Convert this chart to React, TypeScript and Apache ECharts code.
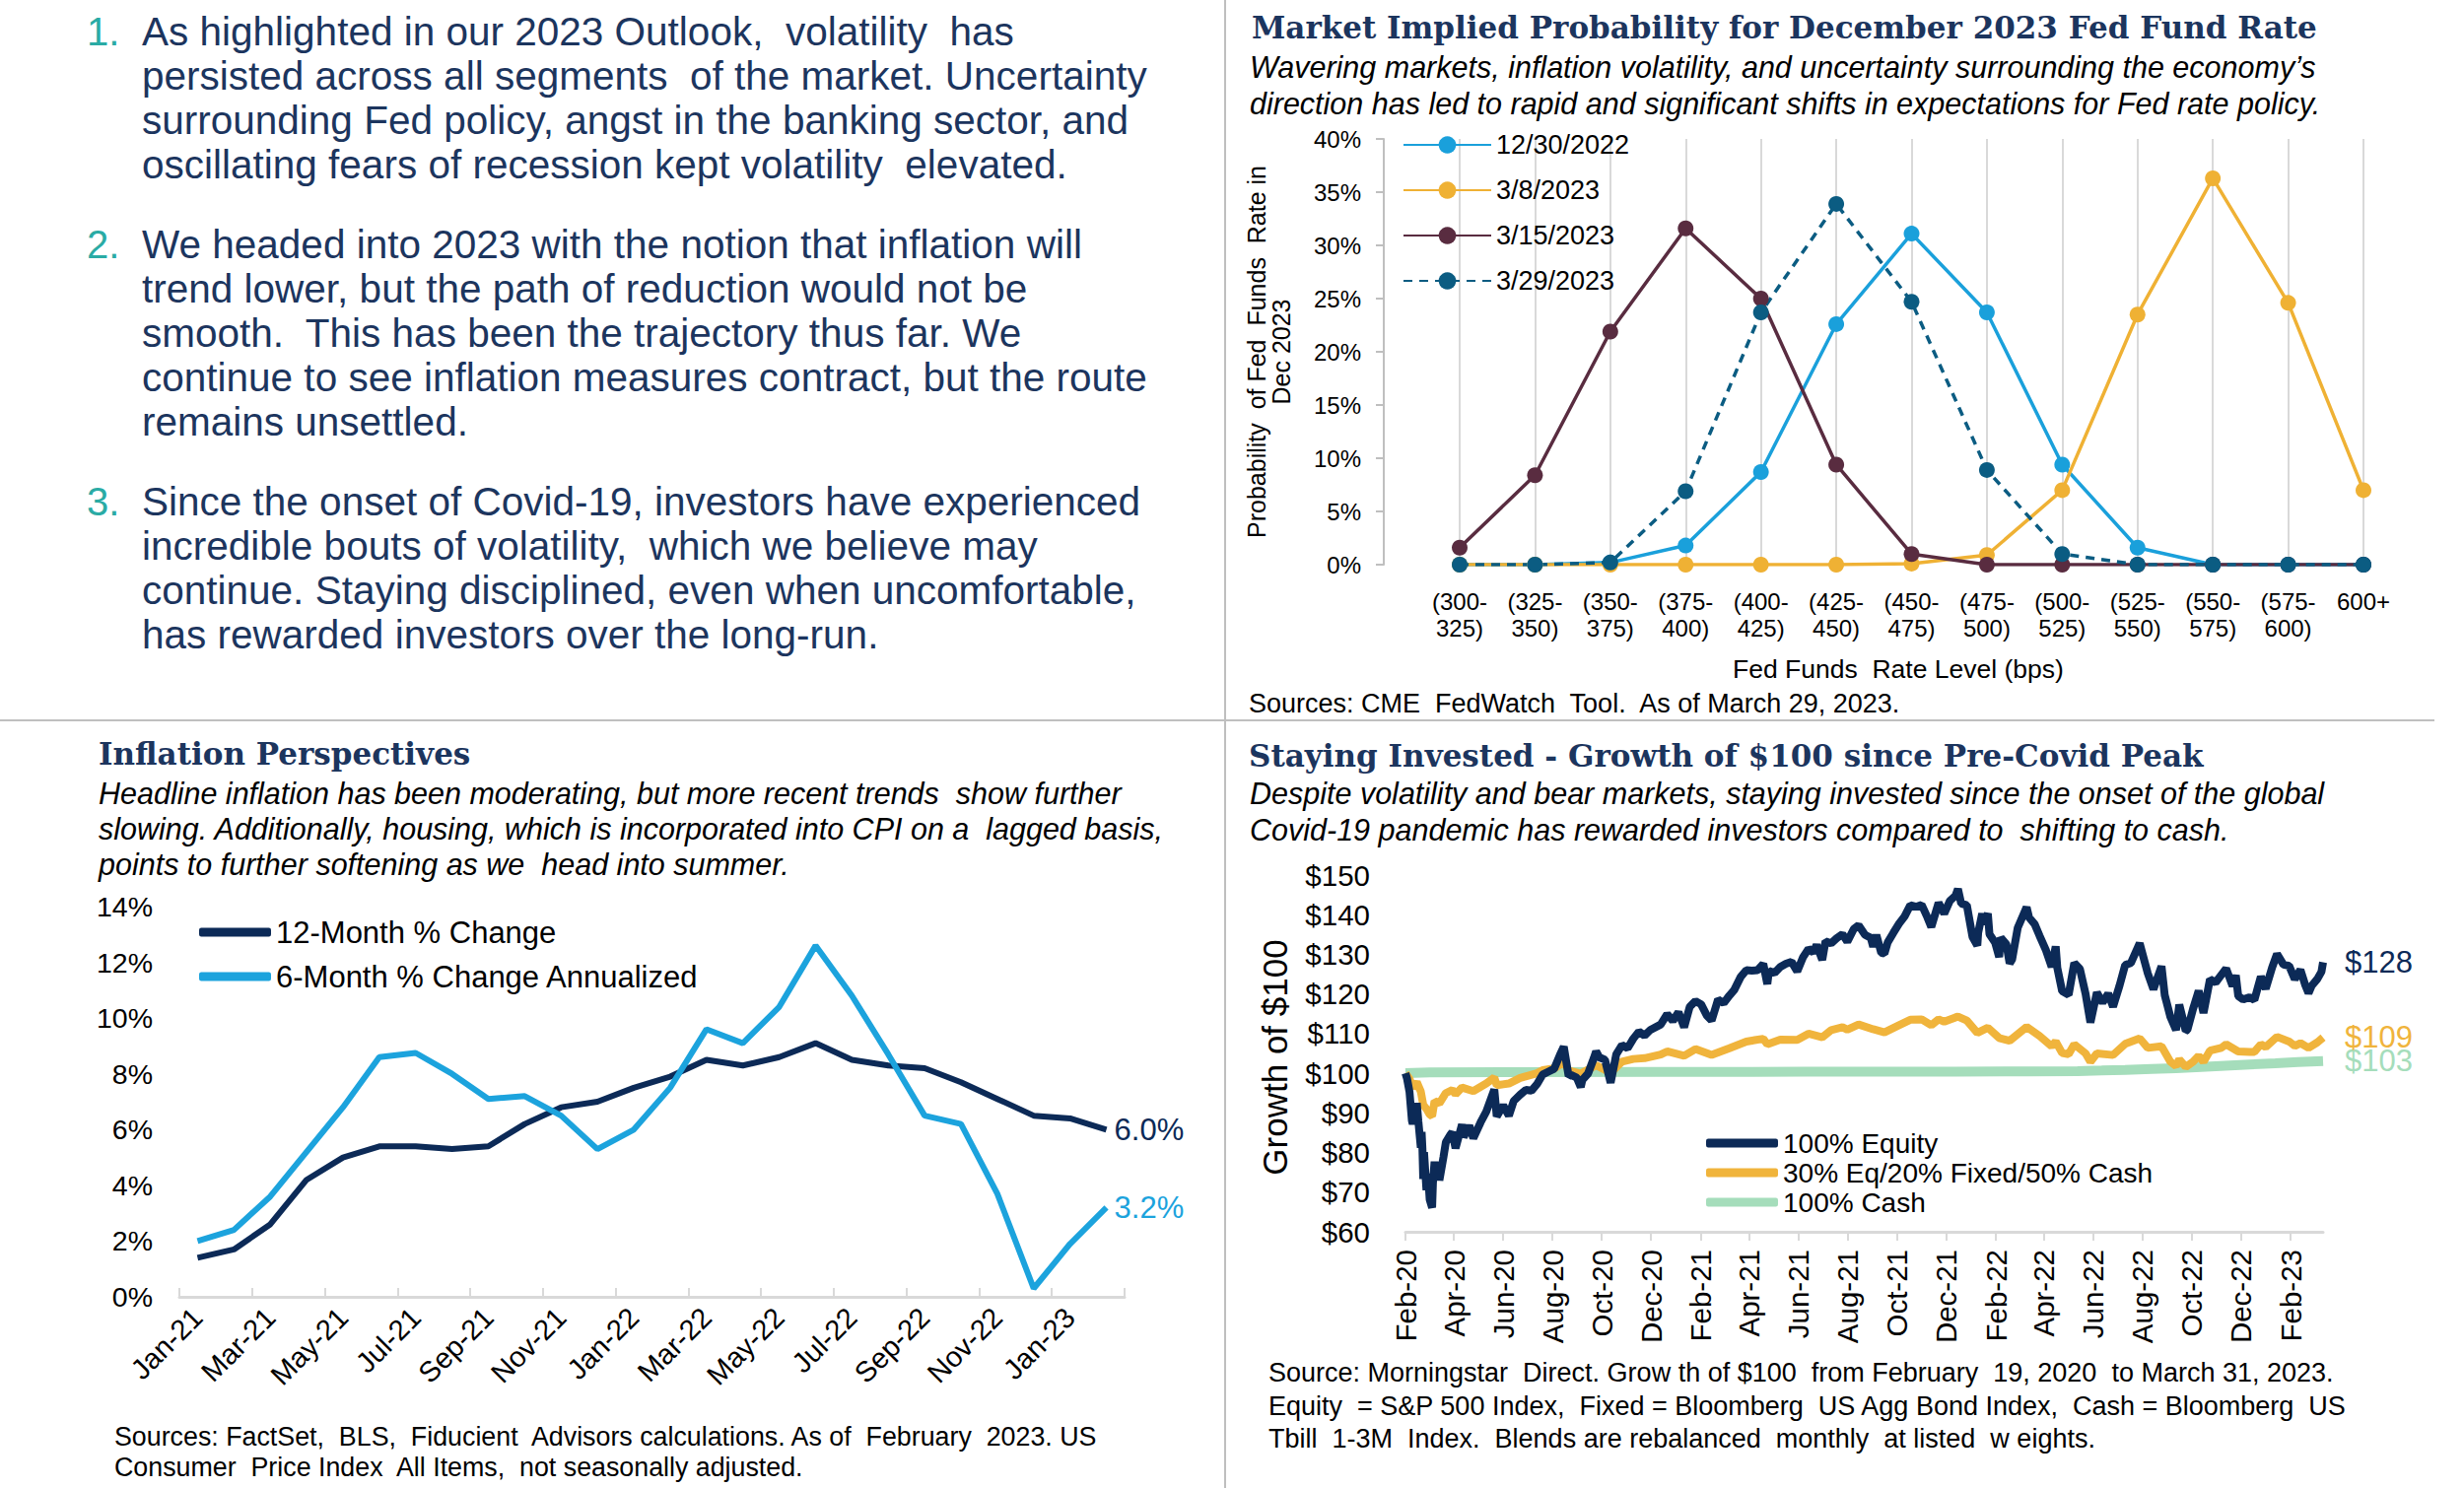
import React, { useEffect, useRef } from 'react';
import * as echarts from 'echarts';

const SANS = '"Liberation Sans", Arial, sans-serif';
const SERIF = '"DejaVu Serif", Georgia, serif';
const NAVY = '#1C355E';

// ---------- Text block ----------
const para1 = [
  'As highlighted in our 2023 Outlook,  volatility  has',
  'persisted across all segments  of the market. Uncertainty',
  'surrounding Fed policy, angst in the banking sector, and',
  'oscillating fears of recession kept volatility  elevated.',
];
const para2 = [
  'We headed into 2023 with the notion that inflation will',
  'trend lower, but the path of reduction would not be',
  'smooth.  This has been the trajectory thus far. We',
  'continue to see inflation measures contract, but the route',
  'remains unsettled.',
];
const para3 = [
  'Since the onset of Covid-19, investors have experienced',
  'incredible bouts of volatility,  which we believe may',
  'continue. Staying disciplined, even when uncomfortable,',
  'has rewarded investors over the long-run.',
];

// ---------- Fed funds chart ----------
const fedCategories = ['(300-\n325)', '(325-\n350)', '(350-\n375)', '(375-\n400)', '(400-\n425)', '(425-\n450)', '(450-\n475)', '(475-\n500)', '(500-\n525)', '(525-\n550)', '(550-\n575)', '(575-\n600)', '600+'];
const fed20221230 = [0, 0, 0.2, 1.8, 8.7, 22.6, 31.1, 23.7, 9.4, 1.6, 0, 0, 0];
const fed20230308 = [0, 0, 0, 0, 0, 0, 0.1, 0.9, 7.0, 23.5, 36.3, 24.6, 7.0];
const fed20230315 = [1.6, 8.4, 21.9, 31.6, 25.0, 9.4, 1.0, 0, 0, 0, 0, 0, 0];
const fed20230329 = [0, 0, 0.2, 6.9, 23.7, 33.9, 24.7, 8.9, 1.0, 0, 0, 0, 0];
const fedTicks = [0, 5, 10, 15, 20, 25, 30, 35, 40];

// ---------- Inflation chart ----------
const months = ['Jan-21', 'Feb-21', 'Mar-21', 'Apr-21', 'May-21', 'Jun-21', 'Jul-21', 'Aug-21', 'Sep-21', 'Oct-21', 'Nov-21', 'Dec-21', 'Jan-22', 'Feb-22', 'Mar-22', 'Apr-22', 'May-22', 'Jun-22', 'Jul-22', 'Aug-22', 'Sep-22', 'Oct-22', 'Nov-22', 'Dec-22', 'Jan-23', 'Feb-23'];
const cpi12Month = [1.4, 1.7, 2.6, 4.2, 5.0, 5.4, 5.4, 5.3, 5.4, 6.2, 6.8, 7.0, 7.5, 7.9, 8.5, 8.3, 8.6, 9.1, 8.5, 8.3, 8.2, 7.7, 7.1, 6.5, 6.4, 6.0];
const cpi6MonthAnn = [2.0, 2.4, 3.6, 5.2, 6.8, 8.6, 8.75, 8.0, 7.1, 7.2, 6.5, 5.3, 6.0, 7.5, 9.6, 9.1, 10.4, 12.6, 10.8, 8.7, 6.5, 6.2, 3.7, 0.3, 1.9, 3.2];

// ---------- Growth chart ----------
const equity: [string, number][] = [
  ['2020-02-19', 100], ['2020-02-21', 98.6], ['2020-02-24', 95.3], ['2020-02-27', 88.0], ['2020-02-28', 87.2],
  ['2020-03-02', 91.3], ['2020-03-03', 88.7], ['2020-03-04', 92.5], ['2020-03-06', 87.8], ['2020-03-09', 81.2],
  ['2020-03-10', 85.2], ['2020-03-11', 81.0], ['2020-03-12', 73.3], ['2020-03-13', 80.1], ['2020-03-16', 70.5],
  ['2020-03-17', 74.7], ['2020-03-18', 70.9], ['2020-03-19', 71.2], ['2020-03-20', 68.1], ['2020-03-23', 66.1],
  ['2020-03-24', 72.3], ['2020-03-26', 77.7], ['2020-03-27', 75.1], ['2020-03-31', 76.4], ['2020-04-01', 73.0],
  ['2020-04-06', 78.8], ['2020-04-09', 82.6], ['2020-04-14', 84.3], ['2020-04-17', 85.1], ['2020-04-21', 81.1],
  ['2020-04-29', 87.1], ['2020-05-01', 83.9], ['2020-05-08', 86.8], ['2020-05-13', 83.6], ['2020-05-22', 87.6],
  ['2020-05-29', 90.3], ['2020-06-08', 95.9], ['2020-06-11', 89.1], ['2020-06-19', 91.9], ['2020-06-26', 89.3],
  ['2020-07-02', 93.0], ['2020-07-10', 94.6], ['2020-07-17', 95.8], ['2020-07-24', 95.6], ['2020-07-31', 97.3],
  ['2020-08-07', 99.7], ['2020-08-14', 100.4], ['2020-08-21', 101.1], ['2020-08-28', 104.5], ['2020-09-02', 106.7],
  ['2020-09-08', 99.3], ['2020-09-11', 99.6], ['2020-09-18', 98.9], ['2020-09-23', 96.5], ['2020-09-25', 98.3],
  ['2020-10-02', 99.9], ['2020-10-09', 103.7], ['2020-10-12', 105.5], ['2020-10-16', 104.0], ['2020-10-23', 103.4],
  ['2020-10-30', 97.6], ['2020-11-06', 104.8], ['2020-11-13', 107.1], ['2020-11-20', 106.3], ['2020-11-27', 108.7],
  ['2020-12-04', 110.5], ['2020-12-11', 109.5], ['2020-12-18', 110.9], ['2020-12-31', 112.3],
  ['2021-01-08', 114.9], ['2021-01-15', 113.2], ['2021-01-22', 115.4], ['2021-01-29', 111.6], ['2021-02-05', 116.8],
  ['2021-02-12', 118.2], ['2021-02-19', 117.4], ['2021-02-26', 114.6], ['2021-03-04', 113.3], ['2021-03-12', 118.6],
  ['2021-03-19', 117.7], ['2021-03-26', 119.6], ['2021-04-01', 121.0], ['2021-04-09', 124.3], ['2021-04-16', 126.0],
  ['2021-04-23', 125.9], ['2021-04-30', 126.0], ['2021-05-07', 127.6], ['2021-05-12', 122.5], ['2021-05-14', 125.8],
  ['2021-05-21', 125.3], ['2021-05-28', 126.8], ['2021-06-04', 127.6], ['2021-06-11', 128.1], ['2021-06-18', 125.7],
  ['2021-06-25', 129.2], ['2021-07-02', 131.4], ['2021-07-08', 130.5], ['2021-07-12', 132.4], ['2021-07-19', 128.6],
  ['2021-07-23', 133.3], ['2021-07-30', 132.8], ['2021-08-06', 134.1], ['2021-08-13', 135.1], ['2021-08-19', 133.2],
  ['2021-08-27', 136.4], ['2021-09-02', 137.3], ['2021-09-10', 134.9], ['2021-09-17', 134.2], ['2021-09-20', 131.9],
  ['2021-09-24', 134.9], ['2021-09-30', 130.4], ['2021-10-04', 130.2], ['2021-10-08', 133.0], ['2021-10-15', 135.4],
  ['2021-10-22', 137.7], ['2021-10-29', 139.6], ['2021-11-05', 142.4], ['2021-11-12', 142.0], ['2021-11-19', 142.5],
  ['2021-11-26', 139.4], ['2021-12-01', 136.9], ['2021-12-10', 143.0], ['2021-12-17', 140.3], ['2021-12-24', 143.5],
  ['2021-12-31', 144.8],
  ['2022-01-03', 146.5], ['2022-01-07', 142.8], ['2022-01-14', 142.4], ['2022-01-21', 134.4], ['2022-01-27', 132.2],
  ['2022-01-28', 135.4], ['2022-02-02', 140.3], ['2022-02-04', 137.6], ['2022-02-09', 140.3], ['2022-02-11', 135.1],
  ['2022-02-18', 133.0], ['2022-02-23', 129.3], ['2022-02-25', 134.2], ['2022-03-04', 132.5], ['2022-03-08', 127.7],
  ['2022-03-11', 128.7], ['2022-03-18', 136.7], ['2022-03-29', 141.9], ['2022-04-01', 139.3], ['2022-04-08', 137.6],
  ['2022-04-14', 134.7], ['2022-04-22', 131.0], ['2022-04-29', 126.8], ['2022-05-04', 132.0], ['2022-05-06', 126.6],
  ['2022-05-12', 120.7], ['2022-05-20', 119.8], ['2022-05-27', 127.8], ['2022-06-03', 126.3], ['2022-06-10', 120.0],
  ['2022-06-16', 112.8], ['2022-06-24', 120.4], ['2022-07-01', 117.8], ['2022-07-08', 120.1], ['2022-07-14', 116.8],
  ['2022-07-22', 122.1], ['2022-07-29', 127.3], ['2022-08-05', 127.8], ['2022-08-16', 132.8], ['2022-08-19', 130.5],
  ['2022-08-26', 125.2], ['2022-09-02', 121.2], ['2022-09-12', 127.0], ['2022-09-16', 119.7], ['2022-09-23', 114.2],
  ['2022-09-30', 110.9], ['2022-10-04', 117.3], ['2022-10-12', 110.7], ['2022-10-14', 110.9], ['2022-10-21', 116.2],
  ['2022-10-28', 120.8], ['2022-11-03', 115.2], ['2022-11-11', 123.7], ['2022-11-18', 122.9], ['2022-11-25', 124.8],
  ['2022-12-01', 126.4], ['2022-12-09', 122.0], ['2022-12-13', 124.7], ['2022-12-16', 119.5], ['2022-12-22', 118.6],
  ['2022-12-30', 119.2],
  ['2023-01-05', 118.5], ['2023-01-13', 124.4], ['2023-01-19', 121.3], ['2023-01-27', 126.7], ['2023-02-02', 130.1],
  ['2023-02-10', 127.4], ['2023-02-17', 127.1], ['2023-02-24', 123.7], ['2023-03-03', 126.1], ['2023-03-09', 122.2],
  ['2023-03-13', 120.2], ['2023-03-17', 122.1], ['2023-03-24', 123.8], ['2023-03-29', 125.6], ['2023-03-31', 128.0],
];
const balanced: [string, number][] = [
  ['2020-02-19', 100], ['2020-02-24', 98.6], ['2020-02-28', 96.3], ['2020-03-04', 97.8], ['2020-03-09', 95.4],
  ['2020-03-12', 92.0], ['2020-03-16', 91.0], ['2020-03-20', 89.6], ['2020-03-23', 89.2], ['2020-03-26', 93.0],
  ['2020-04-01', 92.4], ['2020-04-09', 95.0], ['2020-04-17', 95.8], ['2020-04-21', 94.7], ['2020-04-29', 96.4],
  ['2020-05-13', 95.5], ['2020-05-29', 97.4], ['2020-06-08', 98.9], ['2020-06-11', 97.0], ['2020-06-26', 97.4],
  ['2020-07-10', 98.8], ['2020-07-31', 100.0], ['2020-08-07', 100.8], ['2020-08-21', 101.2], ['2020-09-02', 102.8],
  ['2020-09-08', 100.7], ['2020-09-23', 99.9], ['2020-10-12', 102.0], ['2020-10-30', 100.1], ['2020-11-13', 102.9],
  ['2020-11-27', 103.6], ['2020-12-11', 103.8], ['2020-12-31', 104.7],
  ['2021-01-08', 105.5], ['2021-01-29', 104.4], ['2021-02-12', 106.1], ['2021-03-04', 104.6], ['2021-03-26', 106.3],
  ['2021-04-16', 108.0], ['2021-05-07', 108.7], ['2021-05-12', 107.3], ['2021-05-28', 108.5], ['2021-06-18', 108.4],
  ['2021-07-02', 110.0], ['2021-07-19', 109.1], ['2021-07-30', 110.9], ['2021-08-13', 111.6], ['2021-08-19', 111.0],
  ['2021-09-02', 112.3], ['2021-09-20', 111.1], ['2021-10-04', 110.3], ['2021-10-22', 112.1], ['2021-11-05', 113.5],
  ['2021-11-19', 113.6], ['2021-12-01', 112.1], ['2021-12-10', 113.6], ['2021-12-17', 113.0], ['2021-12-31', 114.1],
  ['2022-01-03', 114.3], ['2022-01-14', 113.3], ['2022-01-27', 110.2], ['2022-02-09', 111.5], ['2022-02-23', 108.9],
  ['2022-03-08', 108.2], ['2022-03-29', 111.7], ['2022-04-14', 109.4], ['2022-04-29', 106.8], ['2022-05-04', 108.0],
  ['2022-05-12', 105.1], ['2022-05-20', 104.8], ['2022-05-27', 107.3], ['2022-06-10', 105.0], ['2022-06-16', 102.9],
  ['2022-06-24', 105.0], ['2022-07-14', 104.6], ['2022-07-29', 107.4], ['2022-08-16', 108.8], ['2022-08-26', 106.4],
  ['2022-09-12', 106.8], ['2022-09-23', 102.9], ['2022-09-30', 101.8], ['2022-10-04', 103.5], ['2022-10-12', 101.6],
  ['2022-10-21', 102.9], ['2022-10-28', 104.4], ['2022-11-03', 102.9], ['2022-11-11', 105.7], ['2022-11-25', 106.4],
  ['2022-12-01', 107.3], ['2022-12-16', 105.5], ['2022-12-30', 105.4],
  ['2023-01-05', 105.4], ['2023-01-13', 107.3], ['2023-01-19', 106.6], ['2023-02-02', 109.2], ['2023-02-17', 108.0],
  ['2023-02-24', 106.9], ['2023-03-03', 107.6], ['2023-03-13', 106.4], ['2023-03-24', 107.8], ['2023-03-31', 109.0],
];
const cash: [string, number][] = [
  ['2020-02-19', 100], ['2020-03-20', 100.2], ['2020-06-30', 100.3], ['2020-12-31', 100.35], ['2021-06-30', 100.38],
  ['2021-12-31', 100.4], ['2022-03-31', 100.45], ['2022-05-31', 100.55], ['2022-06-30', 100.7], ['2022-07-29', 100.85],
  ['2022-08-31', 101.1], ['2022-09-30', 101.3], ['2022-10-31', 101.6], ['2022-11-30', 101.9], ['2022-12-30', 102.2],
  ['2023-01-31', 102.5], ['2023-02-28', 102.8], ['2023-03-31', 103.1],
];
const growthStart = '2020-02-19';
const growthEnd = '2023-03-31';
const MONTH_ABBR = ['Jan', 'Feb', 'Mar', 'Apr', 'May', 'Jun', 'Jul', 'Aug', 'Sep', 'Oct', 'Nov', 'Dec'];

function dayList(start: string, end: string): string[] {
  const out: string[] = [];
  const s = new Date(start + 'T00:00:00Z').getTime();
  const e = new Date(end + 'T00:00:00Z').getTime();
  for (let t = s; t <= e; t += 86400000) out.push(new Date(t).toISOString().slice(0, 10));
  return out;
}
function isTickDay(v: string): boolean {
  const m = Number(v.slice(5, 7));
  const d = v.slice(8, 10);
  return d === '19' && m % 2 === 0;
}
function monthLabel(v: string): string {
  return MONTH_ABBR[Number(v.slice(5, 7)) - 1] + '-' + v.slice(2, 4);
}

function txt(x: number, y: number, text: string, o: any = {}) {
  return {
    type: 'text', x, y, rotation: o.rotation || 0, silent: true,
    style: {
      text, fill: o.fill || '#000', fontSize: o.size || 24, fontFamily: o.family || SANS,
      fontStyle: o.italic ? 'italic' : 'normal', fontWeight: o.bold ? 'bold' : 'normal',
      align: o.align || 'left', verticalAlign: 'middle', lineHeight: o.lineHeight,
    },
  };
}

export default function App() {
  const ref = useRef<HTMLDivElement>(null);
  useEffect(() => {
    document.body.style.margin = '0';
    if (!ref.current) return;
    const chart = echarts.init(ref.current, undefined, { renderer: 'svg' });
    const days = dayList(growthStart, growthEnd);

    const graphic: any[] = [];
    // dividers
    graphic.push({ type: 'line', silent: true, shape: { x1: 1243, y1: 0, x2: 1243, y2: 1510 }, style: { stroke: '#BFBFBF', lineWidth: 2 } });
    graphic.push({ type: 'line', silent: true, shape: { x1: 0, y1: 731, x2: 2470, y2: 731 }, style: { stroke: '#BFBFBF', lineWidth: 2 } });

    // left text block
    const paras = [[para1, 32], [para2, 248], [para3, 509]] as [string[], number][];
    paras.forEach(([lines, y0], pi) => {
      graphic.push(txt(88, y0, (pi + 1) + '.', { size: 40, fill: '#2AABA5' }));
      lines.forEach((l, i) => graphic.push(txt(144, y0 + i * 45, l, { size: 40.5, fill: NAVY })));
    });

    // top-right texts
    graphic.push(txt(1270, 28, 'Market Implied Probability for December 2023 Fed Fund Rate', { size: 31, bold: true, family: SERIF, fill: NAVY }));
    graphic.push(txt(1268, 68, 'Wavering markets, inflation volatility, and uncertainty surrounding the economy\u2019s', { size: 30.5, italic: true }));
    graphic.push(txt(1268, 105, 'direction has led to rapid and significant shifts in expectations for Fed rate policy.', { size: 30.5, italic: true }));
    graphic.push(txt(1287, 357, 'Probability  of Fed  Funds  Rate in\nDec 2023', { size: 25, lineHeight: 25, rotation: Math.PI / 2, align: 'center' }));
    graphic.push(txt(1926, 679, 'Fed Funds  Rate Level (bps)', { size: 26.5, align: 'center' }));
    graphic.push(txt(1267, 714, 'Sources: CME  FedWatch  Tool.  As of March 29, 2023.', { size: 27 }));

    // bottom-left texts
    graphic.push(txt(100, 765, 'Inflation Perspectives', { size: 31, bold: true, family: SERIF, fill: NAVY }));
    graphic.push(txt(100, 805, 'Headline inflation has been moderating, but more recent trends  show further', { size: 30.5, italic: true }));
    graphic.push(txt(100, 841, 'slowing. Additionally, housing, which is incorporated into CPI on a  lagged basis,', { size: 30.5, italic: true }));
    graphic.push(txt(100, 877, 'points to further softening as we  head into summer.', { size: 30.5, italic: true }));
    graphic.push(txt(116, 1458, 'Sources: FactSet,  BLS,  Fiducient  Advisors calculations. As of  February  2023. US', { size: 26.8 }));
    graphic.push(txt(116, 1489, 'Consumer  Price Index  All Items,  not seasonally adjusted.', { size: 26.8 }));

    // bottom-right texts
    graphic.push(txt(1267, 767, 'Staying Invested - Growth of $100 since Pre-Covid Peak', { size: 31, bold: true, family: SERIF, fill: NAVY }));
    graphic.push(txt(1268, 805, 'Despite volatility and bear markets, staying invested since the onset of the global', { size: 30.5, italic: true }));
    graphic.push(txt(1268, 842, 'Covid-19 pandemic has rewarded investors compared to  shifting to cash.', { size: 30.5, italic: true }));
    graphic.push(txt(1293, 1073, 'Growth of $100', { size: 35, rotation: Math.PI / 2, align: 'center' }));
    graphic.push(txt(1287, 1393, 'Source: Morningstar  Direct. Grow th of $100  from February  19, 2020  to March 31, 2023.', { size: 27 }));
    graphic.push(txt(1287, 1427, 'Equity  = S&P 500 Index,  Fixed = Bloomberg  US Agg Bond Index,  Cash = Bloomberg  US', { size: 27 }));
    graphic.push(txt(1287, 1460, 'Tbill  1-3M  Index.  Blends are rebalanced  monthly  at listed  w eights.', { size: 27 }));

    const fedSeries = [
      { name: '12/30/2022', data: fed20221230, color: '#1AA0DB', type: 'solid' },
      { name: '3/8/2023', data: fed20230308, color: '#EFB134', type: 'solid' },
      { name: '3/15/2023', data: fed20230315, color: '#592C40', type: 'solid' },
      { name: '3/29/2023', data: fed20230329, color: '#0B5C82', type: 'dashed' },
    ].map((s) => ({
      name: s.name, type: 'line', xAxisIndex: 0, yAxisIndex: 0, data: s.data,
      symbol: 'circle', symbolSize: 16, color: s.color,
      itemStyle: { color: s.color },
      lineStyle: { color: s.color, width: 3.5, type: s.type === 'dashed' ? [9, 7] : 'solid' },
    }));

    const option: any = {
      animation: false,
      backgroundColor: '#ffffff',
      textStyle: { fontFamily: SANS },
      grid: [
        { left: 1481, top: 141, width: 917, height: 432 },
        { left: 182, top: 920, width: 959, height: 396 },
        { left: 1426, top: 888, width: 931, height: 362 },
      ],
      xAxis: [
        {
          gridIndex: 0, type: 'category', data: fedCategories, boundaryGap: false,
          axisLine: { show: false }, axisTick: { show: false },
          splitLine: { show: true, lineStyle: { color: '#D9D9D9', width: 2 } },
          axisLabel: { interval: 0, fontSize: 24, color: '#000', lineHeight: 27, margin: 24, fontFamily: SANS },
        },
        {
          gridIndex: 1, type: 'category', data: months, boundaryGap: true,
          axisLine: { show: true, lineStyle: { color: '#D9D9D9', width: 3 } },
          axisTick: { show: true, inside: true, interval: 1, length: 9, lineStyle: { color: '#D9D9D9', width: 2 } },
          axisLabel: { interval: 1, rotate: 45, fontSize: 29, color: '#000', margin: 16, fontFamily: SANS },
          splitLine: { show: false },
        },
        {
          gridIndex: 2, type: 'category', data: days, boundaryGap: false,
          axisLine: { show: true, lineStyle: { color: '#D9D9D9', width: 3 } },
          axisTick: { show: true, interval: (_i: number, v: string) => isTickDay(v), length: 9, lineStyle: { color: '#D9D9D9', width: 2 } },
          axisLabel: {
            interval: (_i: number, v: string) => isTickDay(v), formatter: (v: string) => monthLabel(v),
            rotate: 90, fontSize: 29.5, color: '#000', margin: 18, fontFamily: SANS,
          },
          splitLine: { show: false },
        },
      ],
      yAxis: [
        {
          gridIndex: 0, type: 'value', min: fedTicks[0], max: fedTicks[fedTicks.length - 1], interval: 5, offset: 77,
          axisLine: { show: true, lineStyle: { color: '#BFBFBF', width: 2 } },
          axisTick: { show: true, length: 8, lineStyle: { color: '#BFBFBF', width: 2 } },
          splitLine: { show: false },
          axisLabel: { formatter: '{value}%', fontSize: 24, color: '#000', margin: 23, fontFamily: SANS },
        },
        {
          gridIndex: 1, type: 'value', min: 0, max: 14, interval: 2,
          axisLine: { show: false }, axisTick: { show: false }, splitLine: { show: false },
          axisLabel: { formatter: '{value}%', fontSize: 28.5, color: '#000', margin: 27, fontFamily: SANS },
        },
        {
          gridIndex: 2, type: 'value', min: 60, max: 150, interval: 10,
          axisLine: { show: false }, axisTick: { show: false }, splitLine: { show: false },
          axisLabel: { formatter: '${value}', fontSize: 29.5, color: '#000', margin: 36, fontFamily: SANS },
        },
      ],
      legend: [
        {
          data: fedSeries.map((s) => s.name), orient: 'vertical', left: 1418, top: 128,
          itemWidth: 89, itemHeight: 22, itemGap: 18,
          textStyle: { fontSize: 27, color: '#000', lineHeight: 28, fontFamily: SANS },
        },
        {
          data: ['12-Month % Change', '6-Month % Change Annualized'], orient: 'vertical', left: 197, top: 925,
          icon: 'roundRect', itemWidth: 73, itemHeight: 9, itemGap: 13,
          textStyle: { fontSize: 31, color: '#000', lineHeight: 32, fontFamily: SANS },
        },
        {
          data: ['100% Equity', '30% Eq/20% Fixed/50% Cash', '100% Cash'], orient: 'vertical', left: 1726, top: 1141,
          icon: 'roundRect', itemWidth: 73, itemHeight: 9, itemGap: 2,
          textStyle: { fontSize: 28, color: '#000', lineHeight: 28, fontFamily: SANS },
        },
      ],
      series: [
        ...fedSeries,
        {
          name: '12-Month % Change', type: 'line', xAxisIndex: 1, yAxisIndex: 1, data: cpi12Month,
          symbol: 'none', color: '#0C2A57', lineStyle: { color: '#0C2A57', width: 6 },
          endLabel: { show: true, formatter: (p: any) => Number(p.value).toFixed(1) + '%', fontSize: 31, color: '#0C2A57', distance: 8, fontFamily: SANS },
        },
        {
          name: '6-Month % Change Annualized', type: 'line', xAxisIndex: 1, yAxisIndex: 1, data: cpi6MonthAnn,
          symbol: 'none', color: '#1CA3DD', lineStyle: { color: '#1CA3DD', width: 6 },
          endLabel: { show: true, formatter: (p: any) => Number(p.value).toFixed(1) + '%', fontSize: 31, color: '#1CA3DD', distance: 8, fontFamily: SANS },
        },
        {
          name: '100% Cash', type: 'line', xAxisIndex: 2, yAxisIndex: 2, data: cash,
          symbol: 'none', color: '#A5DDBB', lineStyle: { color: '#A5DDBB', width: 10 },
          endLabel: { show: true, formatter: (p: any) => '$' + Math.round(p.value[1]), fontSize: 31, color: '#A5DDBB', distance: 22, fontFamily: SANS },
        },
        {
          name: '30% Eq/20% Fixed/50% Cash', type: 'line', xAxisIndex: 2, yAxisIndex: 2, data: balanced,
          symbol: 'none', color: '#F0B43C', lineStyle: { color: '#F0B43C', width: 8 },
          endLabel: { show: true, formatter: (p: any) => '$' + Math.round(p.value[1]), fontSize: 31, color: '#F0B43C', distance: 22, fontFamily: SANS },
        },
        {
          name: '100% Equity', type: 'line', xAxisIndex: 2, yAxisIndex: 2, data: equity,
          symbol: 'none', color: '#0C2A57', lineStyle: { color: '#0C2A57', width: 8 },
          endLabel: { show: true, formatter: (p: any) => '$' + Math.round(p.value[1]), fontSize: 31, color: '#0C2A57', distance: 22, fontFamily: SANS },
        },
      ],
      graphic,
    };
    chart.setOption(option);
    return () => chart.dispose();
  }, []);
  return <div ref={ref} style={{ width: 2500, height: 1510, background: '#fff' }} />;
}
